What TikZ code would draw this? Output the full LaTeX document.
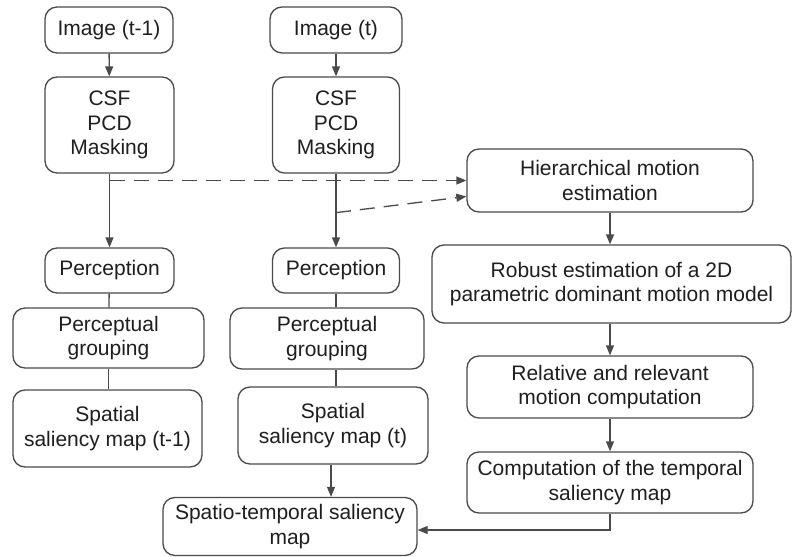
\documentclass[tikz,border=0pt]{standalone}
\usepackage{fontspec}
\setmainfont{Liberation Sans}
\usetikzlibrary{arrows.meta,calc}
\definecolor{ln}{HTML}{4A4A4A}
\definecolor{tx}{HTML}{1E1E1E}
\begin{document}
\begin{tikzpicture}[x=1pt,y=-1pt,
  box/.style={draw=ln,line width=1.3pt,rounded corners=12pt,align=center,
    inner sep=0pt,text=tx,font=\fontsize{21}{24.5}\selectfont},
  conn/.style={draw=ln,line width=1.3pt},
  arr/.style={conn,-{Triangle[length=10pt,width=8pt]}},
  darr/.style={arr,dash pattern=on 15pt off 9pt}]
\useasboundingbox (0,0) rectangle (796,557);
\node[box,minimum width=128pt,minimum height=46pt] (img1) at (109,30) {Image (t-1)};
\node[box,minimum width=132pt,minimum height=46pt] (img2) at (336,30) {Image (t)};
\node[box,minimum width=129pt,minimum height=96pt] (csf1) at (109.5,125) {CSF\\PCD\\Masking};
\node[box,minimum width=127pt,minimum height=96pt] (csf2) at (336,125) {CSF\\PCD\\Masking};
\node[box,minimum width=129pt,minimum height=45pt] (perc1) at (109.5,270.5) {Perception};
\node[box,minimum width=127pt,minimum height=45pt] (perc2) at (336,270.5) {Perception};
\node[box,minimum width=191pt,minimum height=60pt] (pg1) at (108.5,338) {Perceptual\\grouping};
\node[box,minimum width=194pt,minimum height=61pt] (pg2) at (327,338.5) {Perceptual\\grouping};
\node[box,minimum width=189pt,minimum height=77pt] (sp1) at (107.5,428.5) {Spatial\\saliency map (t-1)};
\node[box,minimum width=190pt,minimum height=77pt] (sp2) at (333,425.5) {Spatial\\saliency map (t)};
\node[box,minimum width=254pt,minimum height=58pt] (st) at (290,526.5) {Spatio-temporal saliency\\map};
\node[box,minimum width=286pt,minimum height=63pt] (hier) at (610,180.5) {Hierarchical motion\\estimation};
\node[box,minimum width=359pt,minimum height=78pt] (rob) at (611.5,284) {Robust estimation of a 2D\\parametric dominant motion model};
\node[box,minimum width=286pt,minimum height=62pt] (rel) at (610,387) {Relative and relevant\\motion computation};
\node[box,minimum width=286pt,minimum height=61pt] (comp) at (610,482.5) {Computation of the temporal\\saliency map};
\draw[arr] (img1) -- (csf1);
\draw[arr] (img2) -- (csf2);
\draw[arr] (csf1) -- (perc1);
\draw[arr] (csf2) -- (perc2);
\draw[conn] (perc1) -- (pg1);
\draw[conn] (pg1) -- (pg1 |- sp1.north);
\draw[conn] (perc2) -- (perc2 |- pg2.north);
\draw[conn] (perc2 |- pg2.south) -- (perc2 |- sp2.north);
\draw[arr] (sp2.south -| 331,0) -- (st.north -| 331,0);
\coordinate (d1) at (csf1.south |- hier.west);
\coordinate (d2) at ($(csf2.south)+(0,39)$);
\draw[darr] (d1) -- (hier.west);
\draw[darr] (d2) -- ($(hier.west)+(0,16)$);
\draw[arr] (hier) -- (hier |- rob.north);
\draw[arr] (hier |- rob.south) -- (rel);
\draw[arr] (rel) -- (comp);
\draw[arr] (comp.south) |- ($(st.east)+(0,3.5)$);
\end{tikzpicture}
\end{document}
